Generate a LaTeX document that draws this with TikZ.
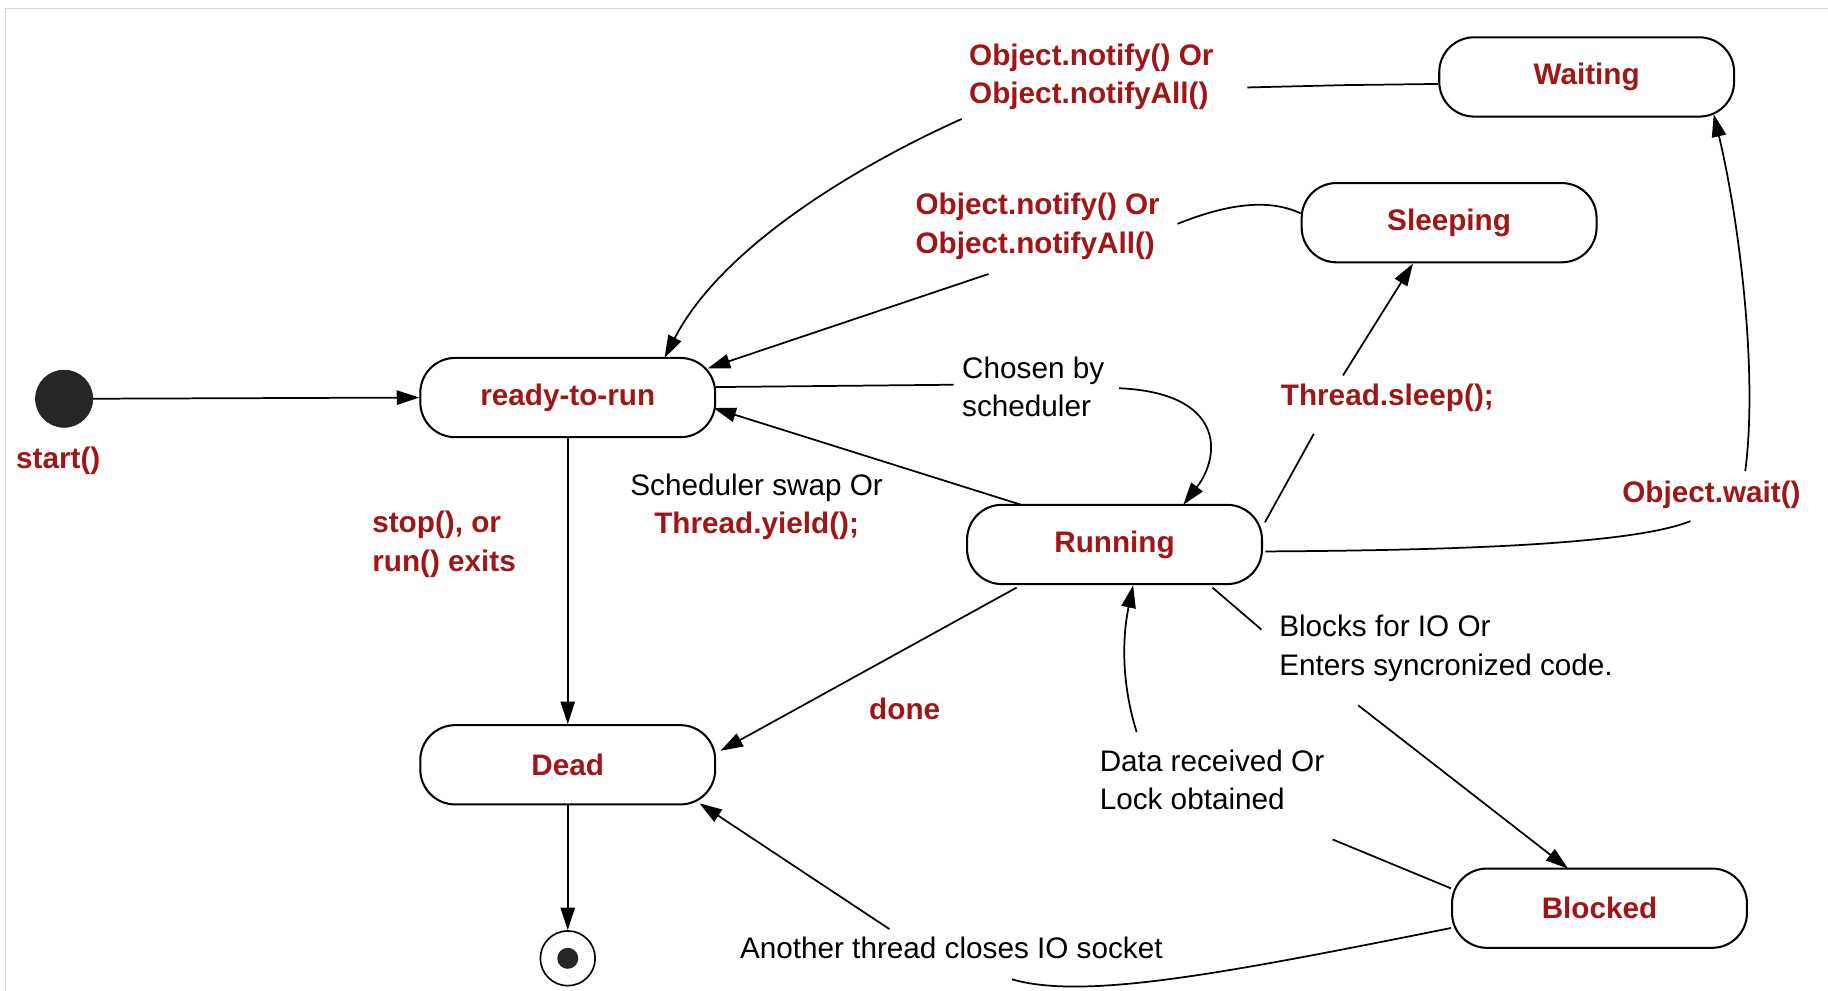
\documentclass[tikz,border=0pt]{standalone}
\usepackage{fontspec}
\setmainfont{Liberation Sans}
\usetikzlibrary{arrows.meta,calc}
\definecolor{rtxt}{RGB}{160,22,22}
\definecolor{frame}{RGB}{215,215,215}
\begin{document}
\begin{tikzpicture}[x=0.02cm,y=-0.02cm,
  state/.style={draw, line width=1pt, rounded corners=17pt, minimum width=5.06cm, minimum height=1.36cm,
    font=\fontsize{14.5}{18}\selectfont\bfseries, text=rtxt},
  rlab/.style={font=\fontsize{14.5}{18.7}\selectfont\bfseries, text=rtxt, inner sep=0pt},
  blab/.style={font=\fontsize{14.5}{18.7}\selectfont, text=black, inner sep=0pt},
  edge/.style={line width=0.85pt},
  arr/.style={edge, -{Triangle[length=11pt,width=7pt]}}]
\useasboundingbox (0,0) rectangle (1568,850);
\draw[frame, line width=0.6pt] (5,850) -- (5,7) -- (1568,7);

% states
\node[circle, fill=black!85, draw=black!85, minimum size=0.98cm, inner sep=0pt] (start) at (55,342) {};
\node[rlab, anchor=north] (startlab) at (50,383) {start()};
\node[state] (ready) at (487,341) {ready-to-run};
\node[state] (dead) at (487,656) {Dead};
\node[state] (run) at (956,467) {Running};
\node[state] (sleep) at (1243,191) {Sleeping};
\node[state] (wait) at (1361,66) {Waiting};
\node[state] (blk) at (1372,779) {Blocked};
\node[circle, draw, line width=0.8pt, minimum size=0.94cm, inner sep=0pt] (end) at (487,822) {};
\node[circle, fill=black!85, minimum size=0.36cm, inner sep=0pt] (enddot) at (487,822) {};

% labels
\node[rlab, anchor=west, align=left] (l1) at (831,66) {Object.notify() Or\\Object.notifyAll()};
\node[rlab, anchor=west, align=left] (l2) at (785,194) {Object.notify() Or\\Object.notifyAll()};
\node[blab, anchor=west, align=left] (l3) at (825,332) {Chosen by\\scheduler};
\node[rlab] (l4) at (1190,341) {Thread.sleep();};
\node[rlab] (l5) at (1468,424) {Object.wait()};
\node[blab, align=center] (l6) at (649,435) {Scheduler swap Or\\\textcolor{rtxt}{\bfseries Thread.yield();}};
\node[rlab, anchor=west, align=left] (l7) at (319,467) {stop(), or\\run() exits};
\node[rlab] (l8) at (776,608) {done};
\node[blab, anchor=west, align=left] (l9) at (1097,556) {Blocks for IO Or\\Enters syncronized code.};
\node[blab, anchor=west, align=left] (l10) at (943,669) {Data received Or\\Lock obtained};
\node[blab] (l11) at (816,813) {Another thread closes IO socket};

% label break points
\coordinate (c1a) at (1070,75);
\coordinate (c1b) at (825,102);
\coordinate (c2a) at (1010,192);
\coordinate (c2b) at (848,235);
\coordinate (c3a) at (818,330);
\coordinate (c3b) at (960,333);
\coordinate (c4a) at (1127,372);
\coordinate (c4b) at (1152,322);
\coordinate (c5a) at (1450,447);
\coordinate (c5b) at (1497,404);
\coordinate (c6a) at (1082,540);
\coordinate (c6b) at (1165,605);
\coordinate (c7a) at (1143,720);
\coordinate (c7b) at (975,628);
\coordinate (c8a) at (868,840);
\coordinate (c8b) at (763,797);

% connectors
\draw[arr] (start.east) -- (ready.west);
\draw[edge] ($(wait.west)+(0,6)$) -- ++(-80,1) -- (c1a);
\draw[arr] (c1b) .. controls (740,140) and (620,210) .. ($(ready)+(83,-34)$);
\draw[edge] ($(sleep.west)+(0,-8)$) .. controls (1092,172) and (1060,172) .. (c2a);
\draw[arr] (c2b) -- ($(ready)+(120,-25)$);
\draw[edge] ($(ready.east)+(0,-9)$) -- (c3a);
\draw[arr] (c3b) .. controls (1050,337) and (1048,390) .. ($(run)+(59,-34)$);
\draw[arr] ($(run)+(-80,-34)$) -- ($(ready)+(125,9)$);
\draw[edge] ($(run)+(129,-19)$) -- (c4a);
\draw[arr] (c4b) -- ($(sleep)+(-31,35)$);
\draw[edge] ($(run.east)+(2,6)$) .. controls (1250,472) and (1400,467) .. (c5a);
\draw[arr] (c5b) .. controls (1508,320) and (1492,190) .. ($(wait)+(109,32)$);
\draw[arr] (ready.south) -- (dead.north);
\draw[arr] ($(run)+(-84,37)$) -- ($(dead)+(131,-12)$);
\draw[arr] (dead.south) -- (end.north);
\draw[edge] ($(run)+(84,37)$) -- (c6a);
\draw[arr] (c6b) -- ($(blk)+(-27,-34)$);
\draw[edge] ($(blk.west)+(0,-17)$) -- (c7a);
\draw[arr] (c7b) .. controls (960,580) and (964,540) .. ($(run)+(16,35)$);
\draw[edge] ($(blk.west)+(0,17)$) .. controls (1050,835) and (930,858) .. (c8a);
\draw[arr] (c8b) -- ($(dead)+(113,33)$);
\end{tikzpicture}
\end{document}
